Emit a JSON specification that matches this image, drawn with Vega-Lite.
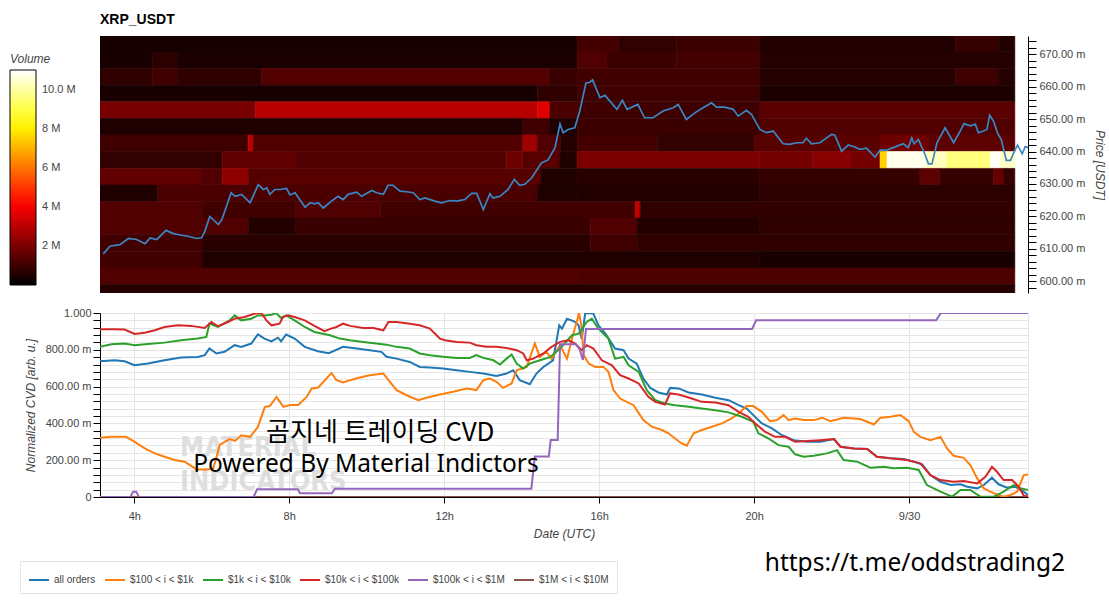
{
"$schema": "https://vega.github.io/schema/vega-lite/v6.json",
"background": "white",
"padding": {"left": 10, "top": 13, "right": 2, "bottom": 0},
"spacing": 13,
"config": {
  "view": {"stroke": null},
  "font": "Liberation Sans",
  "axis": {"labelColor": "#444444", "labelFontSize": 11, "labelFont": "Liberation Sans", "titleColor": "#444444", "titleFontSize": 12, "titleFont": "Liberation Sans", "titleFontStyle": "italic", "titleFontWeight": "normal", "domainColor": "#000000", "tickColor": "#000000", "gridColor": "#e5e5e5", "labelOverlap": false, "labelFlush": false}
},
"resolve": {"scale": {"color": "independent", "x": "independent", "y": "independent"}, "legend": {"color": "independent"}},
"datasets": {
"heat": [
{"h":3.115,"h2":15.43,"p":0.6707,"p2":0.6758,"vol":0.35},{"h":15.43,"h2":16.5,"p":0.6707,"p2":0.6758,"vol":1.1},{"h":16.5,"h2":18.0,"p":0.6707,"p2":0.6758,"vol":0.8},{"h":18.0,"h2":20.15,"p":0.6707,"p2":0.6758,"vol":0.95},{"h":20.15,"h2":25.2,"p":0.6707,"p2":0.6758,"vol":0.55},{"h":25.2,"h2":26.3,"p":0.6707,"p2":0.6758,"vol":0.85},{"h":26.3,"h2":26.73,"p":0.6707,"p2":0.6758,"vol":0.55},
{"h":3.115,"h2":4.46,"p":0.6656,"p2":0.6707,"vol":0.4},{"h":4.46,"h2":5.13,"p":0.6656,"p2":0.6707,"vol":0.7},{"h":5.13,"h2":15.43,"p":0.6656,"p2":0.6707,"vol":0.42},{"h":15.43,"h2":16.2,"p":0.6656,"p2":0.6707,"vol":1.3},{"h":16.2,"h2":18.0,"p":0.6656,"p2":0.6707,"vol":0.95},{"h":18.0,"h2":20.15,"p":0.6656,"p2":0.6707,"vol":1.1},{"h":20.15,"h2":26.73,"p":0.6656,"p2":0.6707,"vol":0.6},
{"h":3.115,"h2":4.46,"p":0.6604,"p2":0.6656,"vol":0.75},{"h":4.46,"h2":5.13,"p":0.6604,"p2":0.6656,"vol":1.0},{"h":5.13,"h2":7.29,"p":0.6604,"p2":0.6656,"vol":0.75},{"h":7.29,"h2":14.73,"p":0.6604,"p2":0.6656,"vol":1.35},{"h":14.73,"h2":15.43,"p":0.6604,"p2":0.6656,"vol":0.9},{"h":15.43,"h2":20.15,"p":0.6604,"p2":0.6656,"vol":1.05},{"h":20.15,"h2":25.2,"p":0.6604,"p2":0.6656,"vol":0.6},{"h":25.2,"h2":26.3,"p":0.6604,"p2":0.6656,"vol":1.0},{"h":26.3,"h2":26.73,"p":0.6604,"p2":0.6656,"vol":0.6},
{"h":3.115,"h2":14.4,"p":0.6553,"p2":0.6604,"vol":0.4},{"h":14.4,"h2":15.43,"p":0.6553,"p2":0.6604,"vol":0.75},{"h":15.43,"h2":20.15,"p":0.6553,"p2":0.6604,"vol":1.0},{"h":20.15,"h2":26.73,"p":0.6553,"p2":0.6604,"vol":0.45},
{"h":3.115,"h2":7.12,"p":0.6502,"p2":0.6553,"vol":1.95},{"h":7.12,"h2":14.4,"p":0.6502,"p2":0.6553,"vol":2.95},{"h":14.4,"h2":14.73,"p":0.6502,"p2":0.6553,"vol":3.6},{"h":14.73,"h2":15.43,"p":0.6502,"p2":0.6553,"vol":1.2},{"h":15.43,"h2":20.15,"p":0.6502,"p2":0.6553,"vol":1.0},{"h":20.15,"h2":26.73,"p":0.6502,"p2":0.6553,"vol":1.45},
{"h":3.115,"h2":14.03,"p":0.6451,"p2":0.6502,"vol":0.5},{"h":14.03,"h2":14.73,"p":0.6451,"p2":0.6502,"vol":1.0},{"h":14.73,"h2":15.43,"p":0.6451,"p2":0.6502,"vol":0.5},{"h":15.43,"h2":20.15,"p":0.6451,"p2":0.6502,"vol":0.95},{"h":20.15,"h2":26.73,"p":0.6451,"p2":0.6502,"vol":1.3},
{"h":3.115,"h2":6.94,"p":0.64,"p2":0.6451,"vol":1.0},{"h":6.94,"h2":7.07,"p":0.64,"p2":0.6451,"vol":3.1},{"h":7.07,"h2":14.03,"p":0.64,"p2":0.6451,"vol":1.3},{"h":14.03,"h2":14.4,"p":0.64,"p2":0.6451,"vol":2.6},{"h":14.4,"h2":15.0,"p":0.64,"p2":0.6451,"vol":1.3},{"h":15.0,"h2":15.43,"p":0.64,"p2":0.6451,"vol":0.6},{"h":15.43,"h2":17.5,"p":0.64,"p2":0.6451,"vol":1.1},{"h":17.5,"h2":20.0,"p":0.64,"p2":0.6451,"vol":0.8},{"h":20.0,"h2":23.25,"p":0.64,"p2":0.6451,"vol":1.4},{"h":23.25,"h2":24.5,"p":0.64,"p2":0.6451,"vol":1.8},{"h":24.5,"h2":26.73,"p":0.64,"p2":0.6451,"vol":1.5},
{"h":3.115,"h2":6.27,"p":0.6348,"p2":0.64,"vol":0.8},{"h":6.27,"h2":8.15,"p":0.6348,"p2":0.64,"vol":1.55},{"h":8.15,"h2":13.6,"p":0.6348,"p2":0.64,"vol":1.3},{"h":13.6,"h2":14.03,"p":0.6348,"p2":0.64,"vol":1.8},{"h":14.03,"h2":14.99,"p":0.6348,"p2":0.64,"vol":1.4},{"h":14.99,"h2":15.43,"p":0.6348,"p2":0.64,"vol":0.5},{"h":15.43,"h2":20.15,"p":0.6348,"p2":0.64,"vol":2.0},{"h":20.15,"h2":21.5,"p":0.6348,"p2":0.64,"vol":1.9},{"h":21.5,"h2":22.5,"p":0.6348,"p2":0.64,"vol":2.2},{"h":22.5,"h2":23.25,"p":0.6348,"p2":0.64,"vol":1.9},{"h":23.25,"h2":23.43,"p":0.6348,"p2":0.64,"vol":7.5},{"h":23.43,"h2":24.45,"p":0.6348,"p2":0.64,"vol":10.8},{"h":24.45,"h2":24.97,"p":0.6348,"p2":0.64,"vol":10.3},{"h":24.97,"h2":26.1,"p":0.6348,"p2":0.64,"vol":9.6},{"h":26.1,"h2":26.36,"p":0.6348,"p2":0.64,"vol":10.9},{"h":26.36,"h2":26.73,"p":0.6348,"p2":0.64,"vol":10.4},
{"h":3.115,"h2":5.75,"p":0.6297,"p2":0.6348,"vol":1.55},{"h":5.75,"h2":6.27,"p":0.6297,"p2":0.6348,"vol":1.3},{"h":6.27,"h2":6.94,"p":0.6297,"p2":0.6348,"vol":2.3},{"h":6.94,"h2":14.5,"p":0.6297,"p2":0.6348,"vol":1.4},{"h":14.5,"h2":15.43,"p":0.6297,"p2":0.6348,"vol":0.5},{"h":15.43,"h2":20.15,"p":0.6297,"p2":0.6348,"vol":0.65},{"h":20.15,"h2":24.28,"p":0.6297,"p2":0.6348,"vol":0.85},{"h":24.28,"h2":24.79,"p":0.6297,"p2":0.6348,"vol":1.5},{"h":24.79,"h2":26.18,"p":0.6297,"p2":0.6348,"vol":0.85},{"h":26.18,"h2":26.43,"p":0.6297,"p2":0.6348,"vol":1.7},{"h":26.43,"h2":26.73,"p":0.6297,"p2":0.6348,"vol":0.85},
{"h":3.115,"h2":4.6,"p":0.6246,"p2":0.6297,"vol":0.5},{"h":4.6,"h2":14.4,"p":0.6246,"p2":0.6297,"vol":1.2},{"h":14.4,"h2":15.43,"p":0.6246,"p2":0.6297,"vol":0.5},{"h":15.43,"h2":20.15,"p":0.6246,"p2":0.6297,"vol":0.55},{"h":20.15,"h2":26.73,"p":0.6246,"p2":0.6297,"vol":0.7},
{"h":3.115,"h2":5.75,"p":0.6195,"p2":0.6246,"vol":1.3},{"h":5.75,"h2":8.15,"p":0.6195,"p2":0.6246,"vol":1.05},{"h":8.15,"h2":10.35,"p":0.6195,"p2":0.6246,"vol":1.3},{"h":10.35,"h2":16.93,"p":0.6195,"p2":0.6246,"vol":1.05},{"h":16.93,"h2":17.06,"p":0.6195,"p2":0.6246,"vol":3.1},{"h":17.06,"h2":26.73,"p":0.6195,"p2":0.6246,"vol":0.78},
{"h":3.115,"h2":6.94,"p":0.6144,"p2":0.6195,"vol":1.3},{"h":6.94,"h2":8.15,"p":0.6144,"p2":0.6195,"vol":0.55},{"h":8.15,"h2":15.77,"p":0.6144,"p2":0.6195,"vol":0.9},{"h":15.77,"h2":16.98,"p":0.6144,"p2":0.6195,"vol":1.3},{"h":16.98,"h2":20.15,"p":0.6144,"p2":0.6195,"vol":0.55},{"h":20.15,"h2":26.73,"p":0.6144,"p2":0.6195,"vol":0.75},
{"h":3.115,"h2":5.75,"p":0.6092,"p2":0.6144,"vol":1.05},{"h":5.75,"h2":15.77,"p":0.6092,"p2":0.6144,"vol":0.65},{"h":15.77,"h2":16.98,"p":0.6092,"p2":0.6144,"vol":1.0},{"h":16.98,"h2":26.73,"p":0.6092,"p2":0.6144,"vol":0.75},
{"h":3.115,"h2":5.75,"p":0.6041,"p2":0.6092,"vol":1.05},{"h":5.75,"h2":20.15,"p":0.6041,"p2":0.6092,"vol":0.5},{"h":20.15,"h2":26.73,"p":0.6041,"p2":0.6092,"vol":0.4},
{"h":3.115,"h2":15.43,"p":0.599,"p2":0.6041,"vol":1.3},{"h":15.43,"h2":26.73,"p":0.599,"p2":0.6041,"vol":1.25},
{"h":3.115,"h2":26.73,"p":0.5939,"p2":0.599,"vol":0.6}
],
"price": [
{"h":3.2,"p":0.6084},{"h":3.37,"p":0.6108},{"h":3.63,"p":0.6113},{"h":3.85,"p":0.6132},{"h":4.06,"p":0.6129},{"h":4.28,"p":0.6116},{"h":4.41,"p":0.6134},{"h":4.58,"p":0.6129},{"h":4.82,"p":0.6157},{"h":5.01,"p":0.6147},{"h":5.22,"p":0.6142},{"h":5.39,"p":0.6139},{"h":5.61,"p":0.6132},{"h":5.74,"p":0.6134},{"h":5.82,"p":0.6154},{"h":5.95,"p":0.62},{"h":6.17,"p":0.6175},{"h":6.26,"p":0.619},{"h":6.5,"p":0.6273},{"h":6.6,"p":0.6262},{"h":6.77,"p":0.6268},{"h":6.99,"p":0.6242},{"h":7.2,"p":0.6298},{"h":7.33,"p":0.6283},{"h":7.42,"p":0.6288},{"h":7.5,"p":0.6268},{"h":7.63,"p":0.6283},{"h":7.76,"p":0.6283},{"h":7.93,"p":0.6286},{"h":8.02,"p":0.6266},{"h":8.15,"p":0.6273},{"h":8.41,"p":0.6228},{"h":8.54,"p":0.6242},{"h":8.66,"p":0.6239},{"h":8.75,"p":0.6242},{"h":8.88,"p":0.6226},{"h":9.09,"p":0.6247},{"h":9.26,"p":0.6262},{"h":9.39,"p":0.6252},{"h":9.52,"p":0.6268},{"h":9.74,"p":0.6275},{"h":9.87,"p":0.6262},{"h":10.13,"p":0.628},{"h":10.26,"p":0.6273},{"h":10.43,"p":0.6268},{"h":10.55,"p":0.6296},{"h":10.68,"p":0.6296},{"h":10.86,"p":0.6278},{"h":11.03,"p":0.6276},{"h":11.2,"p":0.6273},{"h":11.37,"p":0.6252},{"h":11.5,"p":0.6257},{"h":11.76,"p":0.6247},{"h":11.93,"p":0.6242},{"h":12.15,"p":0.6249},{"h":12.32,"p":0.6247},{"h":12.53,"p":0.6252},{"h":12.71,"p":0.6271},{"h":12.84,"p":0.6271},{"h":13.01,"p":0.6221},{"h":13.18,"p":0.627},{"h":13.26,"p":0.6257},{"h":13.44,"p":0.6262},{"h":13.65,"p":0.6283},{"h":13.81,"p":0.6314},{"h":13.95,"p":0.6296},{"h":14.08,"p":0.6299},{"h":14.26,"p":0.6319},{"h":14.51,"p":0.6365},{"h":14.68,"p":0.6374},{"h":14.86,"p":0.6412},{"h":14.99,"p":0.6485},{"h":15.07,"p":0.6458},{"h":15.2,"p":0.6468},{"h":15.37,"p":0.6473},{"h":15.5,"p":0.6525},{"h":15.66,"p":0.6612},{"h":15.74,"p":0.6612},{"h":15.83,"p":0.6621},{"h":16.02,"p":0.6566},{"h":16.15,"p":0.6573},{"h":16.27,"p":0.6556},{"h":16.46,"p":0.653},{"h":16.6,"p":0.6558},{"h":16.72,"p":0.653},{"h":17.0,"p":0.6545},{"h":17.17,"p":0.6504},{"h":17.39,"p":0.6504},{"h":17.65,"p":0.6525},{"h":17.91,"p":0.6535},{"h":18.04,"p":0.6545},{"h":18.25,"p":0.6499},{"h":18.47,"p":0.6519},{"h":18.68,"p":0.6535},{"h":18.9,"p":0.655},{"h":19.03,"p":0.6537},{"h":19.24,"p":0.6537},{"h":19.46,"p":0.653},{"h":19.59,"p":0.6509},{"h":19.8,"p":0.6527},{"h":19.93,"p":0.6515},{"h":20.15,"p":0.6468},{"h":20.32,"p":0.6458},{"h":20.49,"p":0.6463},{"h":20.75,"p":0.6424},{"h":20.92,"p":0.6422},{"h":21.09,"p":0.6427},{"h":21.26,"p":0.6427},{"h":21.35,"p":0.6441},{"h":21.48,"p":0.6424},{"h":21.7,"p":0.6427},{"h":22.0,"p":0.6453},{"h":22.08,"p":0.6451},{"h":22.26,"p":0.6401},{"h":22.43,"p":0.642},{"h":22.6,"p":0.6414},{"h":22.73,"p":0.6407},{"h":22.9,"p":0.641},{"h":23.12,"p":0.6383},{"h":23.25,"p":0.6404},{"h":23.42,"p":0.6404},{"h":23.59,"p":0.6412},{"h":23.85,"p":0.6424},{"h":23.98,"p":0.6412},{"h":24.07,"p":0.6442},{"h":24.13,"p":0.6424},{"h":24.24,"p":0.6437},{"h":24.41,"p":0.6391},{"h":24.5,"p":0.6362},{"h":24.59,"p":0.6362},{"h":24.72,"p":0.6427},{"h":24.93,"p":0.6473},{"h":25.15,"p":0.6427},{"h":25.32,"p":0.6463},{"h":25.42,"p":0.6486},{"h":25.58,"p":0.6479},{"h":25.71,"p":0.6484},{"h":25.79,"p":0.6458},{"h":25.92,"p":0.6463},{"h":26.01,"p":0.6468},{"h":26.08,"p":0.6512},{"h":26.18,"p":0.6494},{"h":26.29,"p":0.6455},{"h":26.38,"p":0.6437},{"h":26.51,"p":0.6373},{"h":26.62,"p":0.6373},{"h":26.7,"p":0.6396},{"h":26.8,"p":0.642},{"h":26.92,"p":0.6393},{"h":27.0,"p":0.6415},{"h":27.07,"p":0.6412}
],
"cvd": [
{"s":"$1M < i < $10M","h":3.115,"v":0},{"s":"$1M < i < $10M","h":27.07,"v":0},
{"s":"all orders","h":3.115,"v":0.738},{"s":"all orders","h":3.49,"v":0.743},{"s":"all orders","h":3.75,"v":0.738},{"s":"all orders","h":4.01,"v":0.716},{"s":"all orders","h":4.35,"v":0.725},{"s":"all orders","h":4.78,"v":0.743},{"s":"all orders","h":5.21,"v":0.758},{"s":"all orders","h":5.64,"v":0.761},{"s":"all orders","h":5.82,"v":0.771},{"s":"all orders","h":5.94,"v":0.807},{"s":"all orders","h":6.12,"v":0.78},{"s":"all orders","h":6.33,"v":0.789},{"s":"all orders","h":6.59,"v":0.825},{"s":"all orders","h":6.76,"v":0.816},{"s":"all orders","h":7.02,"v":0.834},{"s":"all orders","h":7.19,"v":0.884},{"s":"all orders","h":7.36,"v":0.861},{"s":"all orders","h":7.54,"v":0.846},{"s":"all orders","h":7.71,"v":0.866},{"s":"all orders","h":7.79,"v":0.846},{"s":"all orders","h":7.92,"v":0.883},{"s":"all orders","h":8.14,"v":0.861},{"s":"all orders","h":8.4,"v":0.816},{"s":"all orders","h":8.74,"v":0.792},{"s":"all orders","h":9.02,"v":0.782},{"s":"all orders","h":9.39,"v":0.816},{"s":"all orders","h":9.74,"v":0.807},{"s":"all orders","h":10.08,"v":0.798},{"s":"all orders","h":10.38,"v":0.789},{"s":"all orders","h":10.51,"v":0.762},{"s":"all orders","h":10.77,"v":0.752},{"s":"all orders","h":11.11,"v":0.734},{"s":"all orders","h":11.37,"v":0.707},{"s":"all orders","h":11.63,"v":0.704},{"s":"all orders","h":11.97,"v":0.698},{"s":"all orders","h":12.32,"v":0.689},{"s":"all orders","h":12.66,"v":0.68},{"s":"all orders","h":13.01,"v":0.671},{"s":"all orders","h":13.35,"v":0.658},{"s":"all orders","h":13.61,"v":0.671},{"s":"all orders","h":13.78,"v":0.689},{"s":"all orders","h":13.95,"v":0.635},{"s":"all orders","h":14.21,"v":0.613},{"s":"all orders","h":14.38,"v":0.671},{"s":"all orders","h":14.56,"v":0.707},{"s":"all orders","h":14.81,"v":0.743},{"s":"all orders","h":14.9,"v":0.85},{"s":"all orders","h":14.97,"v":0.933},{"s":"all orders","h":15.04,"v":0.915},{"s":"all orders","h":15.17,"v":0.969},{"s":"all orders","h":15.35,"v":0.955},{"s":"all orders","h":15.47,"v":0.933},{"s":"all orders","h":15.55,"v":0.86},{"s":"all orders","h":15.64,"v":1.0},{"s":"all orders","h":15.85,"v":0.997},{"s":"all orders","h":15.98,"v":0.933},{"s":"all orders","h":16.16,"v":0.888},{"s":"all orders","h":16.41,"v":0.807},{"s":"all orders","h":16.63,"v":0.798},{"s":"all orders","h":16.76,"v":0.752},{"s":"all orders","h":16.97,"v":0.725},{"s":"all orders","h":17.14,"v":0.644},{"s":"all orders","h":17.32,"v":0.593},{"s":"all orders","h":17.53,"v":0.568},{"s":"all orders","h":17.75,"v":0.557},{"s":"all orders","h":17.83,"v":0.593},{"s":"all orders","h":18.05,"v":0.59},{"s":"all orders","h":18.31,"v":0.568},{"s":"all orders","h":18.65,"v":0.557},{"s":"all orders","h":19.0,"v":0.539},{"s":"all orders","h":19.34,"v":0.526},{"s":"all orders","h":19.6,"v":0.499},{"s":"all orders","h":19.81,"v":0.481},{"s":"all orders","h":19.98,"v":0.445},{"s":"all orders","h":20.2,"v":0.4},{"s":"all orders","h":20.46,"v":0.373},{"s":"all orders","h":20.71,"v":0.337},{"s":"all orders","h":21.02,"v":0.309},{"s":"all orders","h":21.37,"v":0.3},{"s":"all orders","h":21.71,"v":0.3},{"s":"all orders","h":22.06,"v":0.315},{"s":"all orders","h":22.23,"v":0.273},{"s":"all orders","h":22.57,"v":0.264},{"s":"all orders","h":22.92,"v":0.261},{"s":"all orders","h":23.17,"v":0.219},{"s":"all orders","h":23.52,"v":0.21},{"s":"all orders","h":23.86,"v":0.206},{"s":"all orders","h":24.12,"v":0.192},{"s":"all orders","h":24.34,"v":0.177},{"s":"all orders","h":24.55,"v":0.119},{"s":"all orders","h":24.81,"v":0.083},{"s":"all orders","h":25.07,"v":0.065},{"s":"all orders","h":25.33,"v":0.069},{"s":"all orders","h":25.5,"v":0.056},{"s":"all orders","h":25.76,"v":0.047},{"s":"all orders","h":25.93,"v":0.065},{"s":"all orders","h":26.14,"v":0.105},{"s":"all orders","h":26.31,"v":0.069},{"s":"all orders","h":26.53,"v":0.051},{"s":"all orders","h":26.74,"v":0.056},{"s":"all orders","h":26.96,"v":0.029},{"s":"all orders","h":27.07,"v":0.011},
{"s":"$100 < i < $1k","h":3.115,"v":0.322},{"s":"$100 < i < $1k","h":3.41,"v":0.327},{"s":"$100 < i < $1k","h":3.79,"v":0.327},{"s":"$100 < i < $1k","h":4.01,"v":0.3},{"s":"$100 < i < $1k","h":4.27,"v":0.264},{"s":"$100 < i < $1k","h":4.53,"v":0.237},{"s":"$100 < i < $1k","h":4.78,"v":0.219},{"s":"$100 < i < $1k","h":5.04,"v":0.201},{"s":"$100 < i < $1k","h":5.3,"v":0.192},{"s":"$100 < i < $1k","h":5.61,"v":0.15},{"s":"$100 < i < $1k","h":5.9,"v":0.15},{"s":"$100 < i < $1k","h":6.04,"v":0.156},{"s":"$100 < i < $1k","h":6.21,"v":0.285},{"s":"$100 < i < $1k","h":6.46,"v":0.315},{"s":"$100 < i < $1k","h":6.6,"v":0.305},{"s":"$100 < i < $1k","h":6.76,"v":0.335},{"s":"$100 < i < $1k","h":6.99,"v":0.327},{"s":"$100 < i < $1k","h":7.19,"v":0.381},{"s":"$100 < i < $1k","h":7.37,"v":0.49},{"s":"$100 < i < $1k","h":7.5,"v":0.494},{"s":"$100 < i < $1k","h":7.67,"v":0.544},{"s":"$100 < i < $1k","h":7.85,"v":0.49},{"s":"$100 < i < $1k","h":8.02,"v":0.5},{"s":"$100 < i < $1k","h":8.23,"v":0.5},{"s":"$100 < i < $1k","h":8.45,"v":0.544},{"s":"$100 < i < $1k","h":8.58,"v":0.59},{"s":"$100 < i < $1k","h":8.75,"v":0.595},{"s":"$100 < i < $1k","h":8.92,"v":0.635},{"s":"$100 < i < $1k","h":9.09,"v":0.674},{"s":"$100 < i < $1k","h":9.22,"v":0.635},{"s":"$100 < i < $1k","h":9.39,"v":0.622},{"s":"$100 < i < $1k","h":9.57,"v":0.635},{"s":"$100 < i < $1k","h":9.82,"v":0.649},{"s":"$100 < i < $1k","h":10.08,"v":0.662},{"s":"$100 < i < $1k","h":10.43,"v":0.671},{"s":"$100 < i < $1k","h":10.6,"v":0.626},{"s":"$100 < i < $1k","h":10.77,"v":0.581},{"s":"$100 < i < $1k","h":11.03,"v":0.553},{"s":"$100 < i < $1k","h":11.33,"v":0.526},{"s":"$100 < i < $1k","h":11.54,"v":0.539},{"s":"$100 < i < $1k","h":11.89,"v":0.557},{"s":"$100 < i < $1k","h":12.23,"v":0.572},{"s":"$100 < i < $1k","h":12.58,"v":0.59},{"s":"$100 < i < $1k","h":12.83,"v":0.581},{"s":"$100 < i < $1k","h":13.01,"v":0.635},{"s":"$100 < i < $1k","h":13.18,"v":0.644},{"s":"$100 < i < $1k","h":13.35,"v":0.626},{"s":"$100 < i < $1k","h":13.52,"v":0.593},{"s":"$100 < i < $1k","h":13.74,"v":0.617},{"s":"$100 < i < $1k","h":13.87,"v":0.689},{"s":"$100 < i < $1k","h":14.13,"v":0.707},{"s":"$100 < i < $1k","h":14.34,"v":0.834},{"s":"$100 < i < $1k","h":14.47,"v":0.762},{"s":"$100 < i < $1k","h":14.64,"v":0.789},{"s":"$100 < i < $1k","h":14.77,"v":0.752},{"s":"$100 < i < $1k","h":14.99,"v":0.825},{"s":"$100 < i < $1k","h":15.17,"v":0.752},{"s":"$100 < i < $1k","h":15.3,"v":0.861},{"s":"$100 < i < $1k","h":15.42,"v":0.951},{"s":"$100 < i < $1k","h":15.48,"v":1.0},{"s":"$100 < i < $1k","h":15.54,"v":0.933},{"s":"$100 < i < $1k","h":15.6,"v":0.771},{"s":"$100 < i < $1k","h":15.73,"v":0.725},{"s":"$100 < i < $1k","h":15.9,"v":0.707},{"s":"$100 < i < $1k","h":16.11,"v":0.707},{"s":"$100 < i < $1k","h":16.24,"v":0.68},{"s":"$100 < i < $1k","h":16.37,"v":0.581},{"s":"$100 < i < $1k","h":16.54,"v":0.535},{"s":"$100 < i < $1k","h":16.71,"v":0.517},{"s":"$100 < i < $1k","h":16.89,"v":0.499},{"s":"$100 < i < $1k","h":17.14,"v":0.418},{"s":"$100 < i < $1k","h":17.36,"v":0.382},{"s":"$100 < i < $1k","h":17.62,"v":0.364},{"s":"$100 < i < $1k","h":17.79,"v":0.346},{"s":"$100 < i < $1k","h":17.96,"v":0.318},{"s":"$100 < i < $1k","h":18.13,"v":0.291},{"s":"$100 < i < $1k","h":18.26,"v":0.279},{"s":"$100 < i < $1k","h":18.44,"v":0.346},{"s":"$100 < i < $1k","h":18.65,"v":0.364},{"s":"$100 < i < $1k","h":18.91,"v":0.382},{"s":"$100 < i < $1k","h":19.17,"v":0.4},{"s":"$100 < i < $1k","h":19.42,"v":0.427},{"s":"$100 < i < $1k","h":19.6,"v":0.454},{"s":"$100 < i < $1k","h":19.81,"v":0.494},{"s":"$100 < i < $1k","h":19.98,"v":0.494},{"s":"$100 < i < $1k","h":20.2,"v":0.463},{"s":"$100 < i < $1k","h":20.41,"v":0.412},{"s":"$100 < i < $1k","h":20.59,"v":0.418},{"s":"$100 < i < $1k","h":20.76,"v":0.445},{"s":"$100 < i < $1k","h":20.89,"v":0.418},{"s":"$100 < i < $1k","h":21.06,"v":0.427},{"s":"$100 < i < $1k","h":21.28,"v":0.418},{"s":"$100 < i < $1k","h":21.54,"v":0.418},{"s":"$100 < i < $1k","h":21.76,"v":0.431},{"s":"$100 < i < $1k","h":21.97,"v":0.412},{"s":"$100 < i < $1k","h":22.31,"v":0.431},{"s":"$100 < i < $1k","h":22.74,"v":0.424},{"s":"$100 < i < $1k","h":22.92,"v":0.409},{"s":"$100 < i < $1k","h":23.09,"v":0.394},{"s":"$100 < i < $1k","h":23.26,"v":0.431},{"s":"$100 < i < $1k","h":23.52,"v":0.436},{"s":"$100 < i < $1k","h":23.78,"v":0.445},{"s":"$100 < i < $1k","h":23.99,"v":0.412},{"s":"$100 < i < $1k","h":24.12,"v":0.355},{"s":"$100 < i < $1k","h":24.29,"v":0.327},{"s":"$100 < i < $1k","h":24.55,"v":0.309},{"s":"$100 < i < $1k","h":24.81,"v":0.327},{"s":"$100 < i < $1k","h":24.98,"v":0.264},{"s":"$100 < i < $1k","h":25.15,"v":0.224},{"s":"$100 < i < $1k","h":25.41,"v":0.213},{"s":"$100 < i < $1k","h":25.58,"v":0.174},{"s":"$100 < i < $1k","h":25.76,"v":0.101},{"s":"$100 < i < $1k","h":25.93,"v":0.047},{"s":"$100 < i < $1k","h":26.19,"v":0.02},{"s":"$100 < i < $1k","h":26.44,"v":0.002},{"s":"$100 < i < $1k","h":26.62,"v":0.011},{"s":"$100 < i < $1k","h":26.79,"v":0.029},{"s":"$100 < i < $1k","h":26.96,"v":0.119},{"s":"$100 < i < $1k","h":27.07,"v":0.123},
{"s":"$1k < i < $10k","h":3.115,"v":0.816},{"s":"$1k < i < $10k","h":3.41,"v":0.83},{"s":"$1k < i < $10k","h":3.75,"v":0.834},{"s":"$1k < i < $10k","h":4.01,"v":0.825},{"s":"$1k < i < $10k","h":4.35,"v":0.832},{"s":"$1k < i < $10k","h":4.78,"v":0.839},{"s":"$1k < i < $10k","h":5.21,"v":0.852},{"s":"$1k < i < $10k","h":5.64,"v":0.861},{"s":"$1k < i < $10k","h":5.86,"v":0.87},{"s":"$1k < i < $10k","h":5.94,"v":0.942},{"s":"$1k < i < $10k","h":6.16,"v":0.924},{"s":"$1k < i < $10k","h":6.46,"v":0.96},{"s":"$1k < i < $10k","h":6.59,"v":0.987},{"s":"$1k < i < $10k","h":6.76,"v":0.96},{"s":"$1k < i < $10k","h":7.02,"v":0.969},{"s":"$1k < i < $10k","h":7.19,"v":0.987},{"s":"$1k < i < $10k","h":7.36,"v":0.987},{"s":"$1k < i < $10k","h":7.54,"v":0.991},{"s":"$1k < i < $10k","h":7.66,"v":1.0},{"s":"$1k < i < $10k","h":7.79,"v":0.973},{"s":"$1k < i < $10k","h":7.92,"v":0.987},{"s":"$1k < i < $10k","h":8.14,"v":0.96},{"s":"$1k < i < $10k","h":8.4,"v":0.924},{"s":"$1k < i < $10k","h":8.65,"v":0.897},{"s":"$1k < i < $10k","h":9.05,"v":0.879},{"s":"$1k < i < $10k","h":9.31,"v":0.861},{"s":"$1k < i < $10k","h":9.57,"v":0.852},{"s":"$1k < i < $10k","h":9.91,"v":0.843},{"s":"$1k < i < $10k","h":10.25,"v":0.834},{"s":"$1k < i < $10k","h":10.51,"v":0.828},{"s":"$1k < i < $10k","h":10.77,"v":0.816},{"s":"$1k < i < $10k","h":11.11,"v":0.807},{"s":"$1k < i < $10k","h":11.37,"v":0.78},{"s":"$1k < i < $10k","h":11.63,"v":0.771},{"s":"$1k < i < $10k","h":11.97,"v":0.762},{"s":"$1k < i < $10k","h":12.32,"v":0.756},{"s":"$1k < i < $10k","h":12.66,"v":0.756},{"s":"$1k < i < $10k","h":12.83,"v":0.771},{"s":"$1k < i < $10k","h":13.01,"v":0.756},{"s":"$1k < i < $10k","h":13.27,"v":0.743},{"s":"$1k < i < $10k","h":13.44,"v":0.72},{"s":"$1k < i < $10k","h":13.61,"v":0.752},{"s":"$1k < i < $10k","h":13.74,"v":0.774},{"s":"$1k < i < $10k","h":13.87,"v":0.725},{"s":"$1k < i < $10k","h":14.04,"v":0.698},{"s":"$1k < i < $10k","h":14.21,"v":0.725},{"s":"$1k < i < $10k","h":14.47,"v":0.743},{"s":"$1k < i < $10k","h":14.73,"v":0.76},{"s":"$1k < i < $10k","h":14.99,"v":0.807},{"s":"$1k < i < $10k","h":15.3,"v":0.879},{"s":"$1k < i < $10k","h":15.47,"v":0.888},{"s":"$1k < i < $10k","h":15.68,"v":0.951},{"s":"$1k < i < $10k","h":15.81,"v":0.969},{"s":"$1k < i < $10k","h":15.98,"v":0.915},{"s":"$1k < i < $10k","h":16.24,"v":0.861},{"s":"$1k < i < $10k","h":16.41,"v":0.752},{"s":"$1k < i < $10k","h":16.63,"v":0.761},{"s":"$1k < i < $10k","h":16.76,"v":0.716},{"s":"$1k < i < $10k","h":17.02,"v":0.68},{"s":"$1k < i < $10k","h":17.23,"v":0.581},{"s":"$1k < i < $10k","h":17.45,"v":0.526},{"s":"$1k < i < $10k","h":17.7,"v":0.508},{"s":"$1k < i < $10k","h":17.96,"v":0.499},{"s":"$1k < i < $10k","h":18.31,"v":0.49},{"s":"$1k < i < $10k","h":18.65,"v":0.481},{"s":"$1k < i < $10k","h":19.0,"v":0.472},{"s":"$1k < i < $10k","h":19.34,"v":0.46},{"s":"$1k < i < $10k","h":19.68,"v":0.436},{"s":"$1k < i < $10k","h":19.98,"v":0.409},{"s":"$1k < i < $10k","h":20.11,"v":0.346},{"s":"$1k < i < $10k","h":20.37,"v":0.318},{"s":"$1k < i < $10k","h":20.63,"v":0.282},{"s":"$1k < i < $10k","h":20.89,"v":0.273},{"s":"$1k < i < $10k","h":21.06,"v":0.232},{"s":"$1k < i < $10k","h":21.28,"v":0.219},{"s":"$1k < i < $10k","h":21.54,"v":0.224},{"s":"$1k < i < $10k","h":21.88,"v":0.237},{"s":"$1k < i < $10k","h":22.14,"v":0.255},{"s":"$1k < i < $10k","h":22.31,"v":0.201},{"s":"$1k < i < $10k","h":22.66,"v":0.192},{"s":"$1k < i < $10k","h":23.0,"v":0.159},{"s":"$1k < i < $10k","h":23.35,"v":0.165},{"s":"$1k < i < $10k","h":23.6,"v":0.156},{"s":"$1k < i < $10k","h":23.95,"v":0.159},{"s":"$1k < i < $10k","h":24.25,"v":0.147},{"s":"$1k < i < $10k","h":24.46,"v":0.065},{"s":"$1k < i < $10k","h":24.81,"v":0.029},{"s":"$1k < i < $10k","h":25.11,"v":0.002},{"s":"$1k < i < $10k","h":25.33,"v":0.038},{"s":"$1k < i < $10k","h":25.58,"v":0.038},{"s":"$1k < i < $10k","h":25.84,"v":0.002},{"s":"$1k < i < $10k","h":26.19,"v":0.002},{"s":"$1k < i < $10k","h":26.44,"v":0.029},{"s":"$1k < i < $10k","h":26.7,"v":0.065},{"s":"$1k < i < $10k","h":26.87,"v":0.047},{"s":"$1k < i < $10k","h":27.07,"v":0.038},
{"s":"$10k < i < $100k","h":3.115,"v":0.912},{"s":"$10k < i < $100k","h":3.49,"v":0.912},{"s":"$10k < i < $100k","h":3.75,"v":0.91},{"s":"$10k < i < $100k","h":4.01,"v":0.886},{"s":"$10k < i < $100k","h":4.27,"v":0.893},{"s":"$10k < i < $100k","h":4.53,"v":0.906},{"s":"$10k < i < $100k","h":4.78,"v":0.924},{"s":"$10k < i < $100k","h":5.13,"v":0.933},{"s":"$10k < i < $100k","h":5.47,"v":0.93},{"s":"$10k < i < $100k","h":5.82,"v":0.919},{"s":"$10k < i < $100k","h":5.99,"v":0.951},{"s":"$10k < i < $100k","h":6.16,"v":0.928},{"s":"$10k < i < $100k","h":6.42,"v":0.951},{"s":"$10k < i < $100k","h":6.59,"v":0.969},{"s":"$10k < i < $100k","h":6.85,"v":0.978},{"s":"$10k < i < $100k","h":7.11,"v":0.997},{"s":"$10k < i < $100k","h":7.28,"v":1.0},{"s":"$10k < i < $100k","h":7.41,"v":0.96},{"s":"$10k < i < $100k","h":7.54,"v":0.933},{"s":"$10k < i < $100k","h":7.75,"v":0.942},{"s":"$10k < i < $100k","h":7.84,"v":0.978},{"s":"$10k < i < $100k","h":7.97,"v":0.987},{"s":"$10k < i < $100k","h":8.14,"v":0.978},{"s":"$10k < i < $100k","h":8.4,"v":0.96},{"s":"$10k < i < $100k","h":8.65,"v":0.93},{"s":"$10k < i < $100k","h":8.91,"v":0.901},{"s":"$10k < i < $100k","h":9.08,"v":0.915},{"s":"$10k < i < $100k","h":9.22,"v":0.924},{"s":"$10k < i < $100k","h":9.39,"v":0.942},{"s":"$10k < i < $100k","h":9.57,"v":0.93},{"s":"$10k < i < $100k","h":9.91,"v":0.919},{"s":"$10k < i < $100k","h":10.17,"v":0.919},{"s":"$10k < i < $100k","h":10.43,"v":0.906},{"s":"$10k < i < $100k","h":10.56,"v":0.951},{"s":"$10k < i < $100k","h":10.77,"v":0.951},{"s":"$10k < i < $100k","h":11.11,"v":0.942},{"s":"$10k < i < $100k","h":11.37,"v":0.933},{"s":"$10k < i < $100k","h":11.63,"v":0.915},{"s":"$10k < i < $100k","h":11.89,"v":0.861},{"s":"$10k < i < $100k","h":12.02,"v":0.852},{"s":"$10k < i < $100k","h":12.32,"v":0.843},{"s":"$10k < i < $100k","h":12.66,"v":0.839},{"s":"$10k < i < $100k","h":12.83,"v":0.825},{"s":"$10k < i < $100k","h":13.09,"v":0.816},{"s":"$10k < i < $100k","h":13.35,"v":0.816},{"s":"$10k < i < $100k","h":13.61,"v":0.81},{"s":"$10k < i < $100k","h":13.87,"v":0.798},{"s":"$10k < i < $100k","h":14.04,"v":0.78},{"s":"$10k < i < $100k","h":14.13,"v":0.743},{"s":"$10k < i < $100k","h":14.3,"v":0.752},{"s":"$10k < i < $100k","h":14.56,"v":0.78},{"s":"$10k < i < $100k","h":14.77,"v":0.816},{"s":"$10k < i < $100k","h":14.99,"v":0.843},{"s":"$10k < i < $100k","h":15.21,"v":0.852},{"s":"$10k < i < $100k","h":15.38,"v":0.834},{"s":"$10k < i < $100k","h":15.55,"v":0.798},{"s":"$10k < i < $100k","h":15.68,"v":0.825},{"s":"$10k < i < $100k","h":15.85,"v":0.807},{"s":"$10k < i < $100k","h":16.07,"v":0.743},{"s":"$10k < i < $100k","h":16.33,"v":0.716},{"s":"$10k < i < $100k","h":16.54,"v":0.662},{"s":"$10k < i < $100k","h":16.76,"v":0.644},{"s":"$10k < i < $100k","h":17.02,"v":0.617},{"s":"$10k < i < $100k","h":17.27,"v":0.544},{"s":"$10k < i < $100k","h":17.45,"v":0.517},{"s":"$10k < i < $100k","h":17.7,"v":0.503},{"s":"$10k < i < $100k","h":17.83,"v":0.563},{"s":"$10k < i < $100k","h":18.05,"v":0.557},{"s":"$10k < i < $100k","h":18.39,"v":0.535},{"s":"$10k < i < $100k","h":18.65,"v":0.517},{"s":"$10k < i < $100k","h":19.0,"v":0.514},{"s":"$10k < i < $100k","h":19.34,"v":0.499},{"s":"$10k < i < $100k","h":19.6,"v":0.463},{"s":"$10k < i < $100k","h":19.85,"v":0.436},{"s":"$10k < i < $100k","h":20.03,"v":0.4},{"s":"$10k < i < $100k","h":20.28,"v":0.355},{"s":"$10k < i < $100k","h":20.54,"v":0.327},{"s":"$10k < i < $100k","h":20.8,"v":0.327},{"s":"$10k < i < $100k","h":21.06,"v":0.3},{"s":"$10k < i < $100k","h":21.37,"v":0.304},{"s":"$10k < i < $100k","h":21.71,"v":0.309},{"s":"$10k < i < $100k","h":22.06,"v":0.315},{"s":"$10k < i < $100k","h":22.23,"v":0.273},{"s":"$10k < i < $100k","h":22.57,"v":0.264},{"s":"$10k < i < $100k","h":22.92,"v":0.261},{"s":"$10k < i < $100k","h":23.17,"v":0.219},{"s":"$10k < i < $100k","h":23.52,"v":0.21},{"s":"$10k < i < $100k","h":23.95,"v":0.201},{"s":"$10k < i < $100k","h":24.29,"v":0.183},{"s":"$10k < i < $100k","h":24.55,"v":0.119},{"s":"$10k < i < $100k","h":24.81,"v":0.092},{"s":"$10k < i < $100k","h":25.15,"v":0.083},{"s":"$10k < i < $100k","h":25.41,"v":0.087},{"s":"$10k < i < $100k","h":25.76,"v":0.074},{"s":"$10k < i < $100k","h":25.97,"v":0.11},{"s":"$10k < i < $100k","h":26.14,"v":0.164},{"s":"$10k < i < $100k","h":26.27,"v":0.137},{"s":"$10k < i < $100k","h":26.44,"v":0.092},{"s":"$10k < i < $100k","h":26.66,"v":0.092},{"s":"$10k < i < $100k","h":26.83,"v":0.056},{"s":"$10k < i < $100k","h":26.96,"v":0.007},{"s":"$10k < i < $100k","h":27.07,"v":0.002},
{"s":"$100k < i < $1M","h":3.115,"v":0},{"s":"$100k < i < $1M","h":3.9,"v":0},{"s":"$100k < i < $1M","h":3.97,"v":0.029},{"s":"$100k < i < $1M","h":4.05,"v":0.029},{"s":"$100k < i < $1M","h":4.12,"v":0},{"s":"$100k < i < $1M","h":7.08,"v":0},{"s":"$100k < i < $1M","h":7.17,"v":0.042},{"s":"$100k < i < $1M","h":8.22,"v":0.042},{"s":"$100k < i < $1M","h":8.28,"v":0.02},{"s":"$100k < i < $1M","h":9.1,"v":0.02},{"s":"$100k < i < $1M","h":9.18,"v":0.045},{"s":"$100k < i < $1M","h":14.25,"v":0.045},{"s":"$100k < i < $1M","h":14.34,"v":0.22},{"s":"$100k < i < $1M","h":14.7,"v":0.22},{"s":"$100k < i < $1M","h":14.75,"v":0.31},{"s":"$100k < i < $1M","h":14.93,"v":0.31},{"s":"$100k < i < $1M","h":14.99,"v":0.83},{"s":"$100k < i < $1M","h":15.4,"v":0.83},{"s":"$100k < i < $1M","h":15.5,"v":0.8},{"s":"$100k < i < $1M","h":15.58,"v":0.745},{"s":"$100k < i < $1M","h":15.66,"v":0.913},{"s":"$100k < i < $1M","h":19.95,"v":0.913},{"s":"$100k < i < $1M","h":20.05,"v":0.96},{"s":"$100k < i < $1M","h":24.7,"v":0.96},{"s":"$100k < i < $1M","h":24.82,"v":1.0},{"s":"$100k < i < $1M","h":27.07,"v":1.0}
]
},
"vconcat": [
{
  "title": {"text": "XRP_USDT", "anchor": "start", "frame": "group", "fontSize": 14, "fontWeight": "bold", "font": "Liberation Sans", "color": "#000000", "offset": 8},
  "width": 928,
  "height": 257,
  "encoding": {
    "x": {"field": "h", "type": "quantitative", "scale": {"domain": [3.115, 27.07], "nice": false, "zero": false}, "axis": null},
    "y": {"field": "p", "type": "quantitative", "scale": {"domain": [0.5964, 0.6756], "nice": false, "zero": false},
      "axis": {"orient": "right", "title": "Price [USDT]", "grid": false, "tickSize": 8, "labelPadding": 3, "titlePadding": 8,
        "values": [0.598,0.6,0.602,0.604,0.606,0.608,0.61,0.612,0.614,0.616,0.618,0.62,0.622,0.624,0.626,0.628,0.63,0.632,0.634,0.636,0.638,0.64,0.642,0.644,0.646,0.648,0.65,0.652,0.654,0.656,0.658,0.66,0.662,0.664,0.666,0.668,0.67,0.672,0.674],
        "labelExpr": "abs(datum.value*100 - round(datum.value*100)) < 1e-6 ? format(datum.value*1000, '.2f') + ' m' : ''",
        "encode": {"ticks": {"update": {"x2": {"signal": "abs(datum.value*100 - round(datum.value*100)) < 1e-6 ? 8 : 4"}}}}}}
  },
  "layer": [
    {
      "data": {"name": "heat"},
      "mark": {"type": "rect", "clip": true, "strokeWidth": 0.6},
      "encoding": {
        "x2": {"field": "h2"},
        "y2": {"field": "p2"},
        "color": {"field": "vol", "type": "quantitative", "title": "Volume",
          "scale": {"domain": [0, 4.125, 8.25, 11], "range": ["#000000", "#ff0000", "#ffff00", "#ffffff"], "interpolate": "rgb"},
          "legend": {"orient": "none", "legendX": -90, "legendY": 18, "direction": "vertical", "gradientLength": 215, "gradientThickness": 26,
            "gradientStrokeColor": "#000000", "gradientStrokeWidth": 1, "titleFontStyle": "italic", "titleFontWeight": "normal", "titleFontSize": 12,
            "titleColor": "#444444", "titlePadding": 4, "titleFont": "Liberation Sans", "labelFont": "Liberation Sans", "labelFontSize": 11, "labelColor": "#444444", "labelOffset": 6,
            "values": [2, 4, 6, 8, 10], "labelExpr": "datum.value == 10 ? '10.0 M' : datum.value + ' M'"}},
        "stroke": {"field": "vol", "type": "quantitative", "legend": null,
          "scale": {"domain": [0, 4.125, 8.25, 11], "range": ["#000000", "#ff0000", "#ffff00", "#ffffff"], "interpolate": "rgb"}}
      }
    },
    {
      "data": {"name": "price"},
      "mark": {"type": "line", "color": "#3b86c4", "strokeWidth": 1.7, "clip": true},
      "encoding": {}
    }
  ]
},
{
  "width": 928,
  "height": 184,
  "view": {"stroke": "#e5e5e5"},
  "encoding": {
    "x": {"field": "h", "type": "quantitative", "scale": {"domain": [3.115, 27.07], "nice": false, "zero": false},
      "axis": {"title": "Date (UTC)", "values": [4, 8, 12, 16, 20, 24], "labelExpr": "datum.value == 24 ? '9/30' : datum.value + 'h'", "grid": true, "tickSize": 6, "labelPadding": 7, "titlePadding": 7}},
    "y": {"field": "v", "type": "quantitative", "scale": {"domain": [0, 1], "nice": false, "zero": false},
      "axis": {"title": "Normalized CVD [arb. u.]", "grid": true, "tickSize": 7, "labelPadding": 2, "titlePadding": 8,
        "values": [0,0.04,0.08,0.12,0.16,0.2,0.24,0.28,0.32,0.36,0.4,0.44,0.48,0.52,0.56,0.6,0.64,0.68,0.72,0.76,0.8,0.84,0.88,0.92,0.96,1],
        "labelExpr": "abs(datum.value*5 - round(datum.value*5)) < 1e-6 ? (datum.value == 0 ? '0' : (datum.value > 0.999 ? '1.000' : format(datum.value*1000, '.2f') + ' m')) : ''",
        "encode": {"ticks": {"update": {"x2": {"signal": "abs(datum.value*5 - round(datum.value*5)) < 1e-6 ? -7 : -4"}}},
                   "grid": {"update": {"strokeOpacity": {"signal": "abs(datum.value*5 - round(datum.value*5)) < 1e-6 ? 1 : 0"}}}}}}
  },
  "layer": [
    {
      "data": {"values": [{"h": 5.18, "v": 0.264, "label": "MATERIAL"}, {"h": 5.18, "v": 0.079, "label": "INDICATORS"}]},
      "mark": {"type": "text", "align": "left", "baseline": "middle", "font": "Liberation Sans Narrow, DejaVu Sans Condensed", "fontWeight": "bold", "fontSize": 27, "color": "#dedede"},
      "encoding": {"text": {"field": "label"}}
    },
    {
      "data": {"name": "cvd"},
      "mark": {"type": "line", "strokeWidth": 2, "clip": true},
      "encoding": {
        "color": {"field": "s", "type": "nominal",
          "scale": {"domain": ["all orders", "$100 < i < $1k", "$1k < i < $10k", "$10k < i < $100k", "$100k < i < $1M", "$1M < i < $10M"],
                    "range": ["#1f77b4", "#ff7f0e", "#2ca02c", "#d62728", "#9467bd", "#8c564b"]},
          "legend": {"orient": "none", "legendX": -80, "legendY": 248, "direction": "horizontal", "title": null, "strokeColor": "#e5e5e5", "fillColor": "#ffffff",
            "padding": 8, "symbolType": "stroke", "symbolStrokeWidth": 2, "symbolSize": 400, "labelFontSize": 10, "labelColor": "#444444", "labelFont": "Liberation Sans",
            "columnPadding": 5, "labelOffset": 4}}
      }
    },
    {
      "data": {"values": [{"h": 10.35, "v": 0.347, "label": "곰지네 트레이딩 CVD"}]},
      "mark": {"type": "text", "align": "center", "baseline": "middle", "font": "Noto Sans CJK KR", "fontSize": 26, "color": "#000000"},
      "encoding": {"text": {"field": "label"}}
    },
    {
      "data": {"values": [{"h": 9.98, "v": 0.136, "label": "Powered By Material Indictors"}, {"h": 24.15, "v": -0.4015, "label": "https://t.me/oddstrading2"}]},
      "mark": {"type": "text", "align": "center", "baseline": "alphabetic", "font": "Noto Sans", "fontSize": 24.5, "color": "#000000"},
      "encoding": {"text": {"field": "label"}}
    }
  ]
}
]
}
